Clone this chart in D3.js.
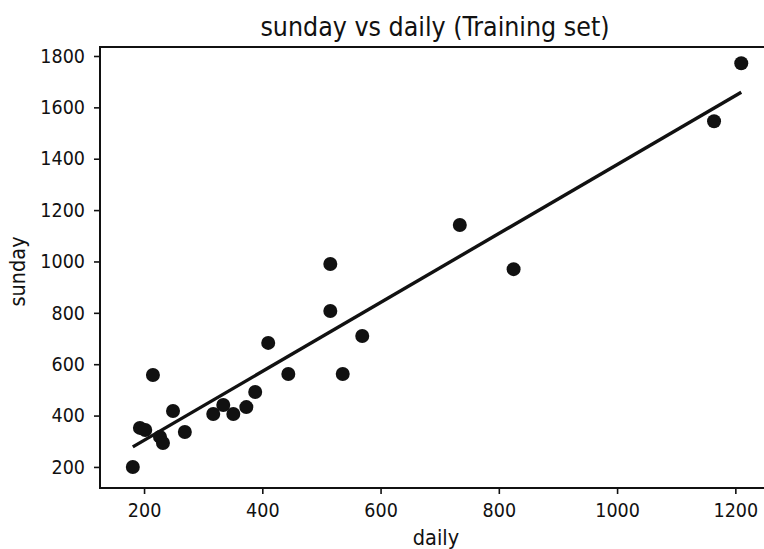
<!DOCTYPE html>
<html><head><meta charset="utf-8">
<script src="https://cdn.jsdelivr.net/npm/d3@7"></script>
<style>body{margin:0;background:#fff;} svg{display:block;}</style>
</head><body>
<svg id="c" width="764" height="549"></svg>
<script>
const daily  = [181, 193, 202, 215, 227, 232, 249, 269, 317, 334, 351, 373, 388, 410, 444, 515, 515, 536, 569, 734, 825, 1164, 1210];
const sunday = [200, 352, 344, 558, 317, 293, 418, 336, 406, 441, 406, 433, 492, 683, 562, 990, 807, 562, 710, 1142, 970, 1546, 1772];
const fitDaily  = [181, 1210];
const fitSunday = [278, 1659];
const xTicks = [200, 400, 600, 800, 1000, 1200];
const yTicks = [200, 400, 600, 800, 1000, 1200, 1400, 1600, 1800];
const title = "sunday vs daily (Training set)";
const xLabel = "daily", yLabel = "sunday";

const svg = d3.select("#c");
const L = 100, R = 772, T = 47, B = 488;
const x = d3.scaleLinear().domain([125.5, 1262]).range([L, R]);
const y = d3.scaleLinear().domain([118, 1835]).range([B, T]);
const font = "'DejaVu Sans Condensed', 'DejaVu Sans', sans-serif";
const ink = "#111";
const tickFs = 19.5;

svg.append("g").attr("transform", `translate(0,${B})`)
  .call(d3.axisBottom(x).tickValues(xTicks).tickSize(6).tickPadding(9).tickFormat(d3.format("d")))
  .call(g => { g.select(".domain").remove(); g.selectAll("line").attr("stroke", ink).attr("stroke-width", 1.6);
    g.selectAll("text").attr("font-family", font).attr("font-size", tickFs).attr("fill", ink); });
svg.append("g").attr("transform", `translate(${L},0)`)
  .call(d3.axisLeft(y).tickValues(yTicks).tickSize(6).tickPadding(9).tickFormat(d3.format("d")))
  .call(g => { g.select(".domain").remove(); g.selectAll("line").attr("stroke", ink).attr("stroke-width", 1.6);
    g.selectAll("text").attr("font-family", font).attr("font-size", tickFs).attr("fill", ink); });

svg.append("rect").attr("x", L).attr("y", T).attr("width", R - L).attr("height", B - T)
  .attr("fill", "none").attr("stroke", ink).attr("stroke-width", 2);

const pts = daily.map((d, i) => [d, sunday[i]]);
svg.append("g").selectAll("circle").data(pts).join("circle")
  .attr("cx", d => x(d[0])).attr("cy", d => y(d[1])).attr("r", 7).attr("fill", ink);

svg.append("path").datum(fitDaily.map((d, i) => [d, fitSunday[i]]))
  .attr("d", d3.line().x(d => x(d[0])).y(d => y(d[1])))
  .attr("stroke", ink).attr("stroke-width", 3.4).attr("fill", "none");

svg.append("text").attr("x", 435).attr("y", 36).attr("text-anchor", "middle")
  .attr("font-family", font).attr("font-size", 26.5).attr("fill", ink).text(title);
svg.append("text").attr("x", 436).attr("y", 545).attr("text-anchor", "middle")
  .attr("font-family", font).attr("font-size", 21.5).attr("fill", ink).text(xLabel);
svg.append("text").attr("transform", `translate(25,${(T + B) / 2 + 4}) rotate(-90)`).attr("text-anchor", "middle")
  .attr("font-family", font).attr("font-size", 21.5).attr("fill", ink).text(yLabel);
</script>
</body></html>
